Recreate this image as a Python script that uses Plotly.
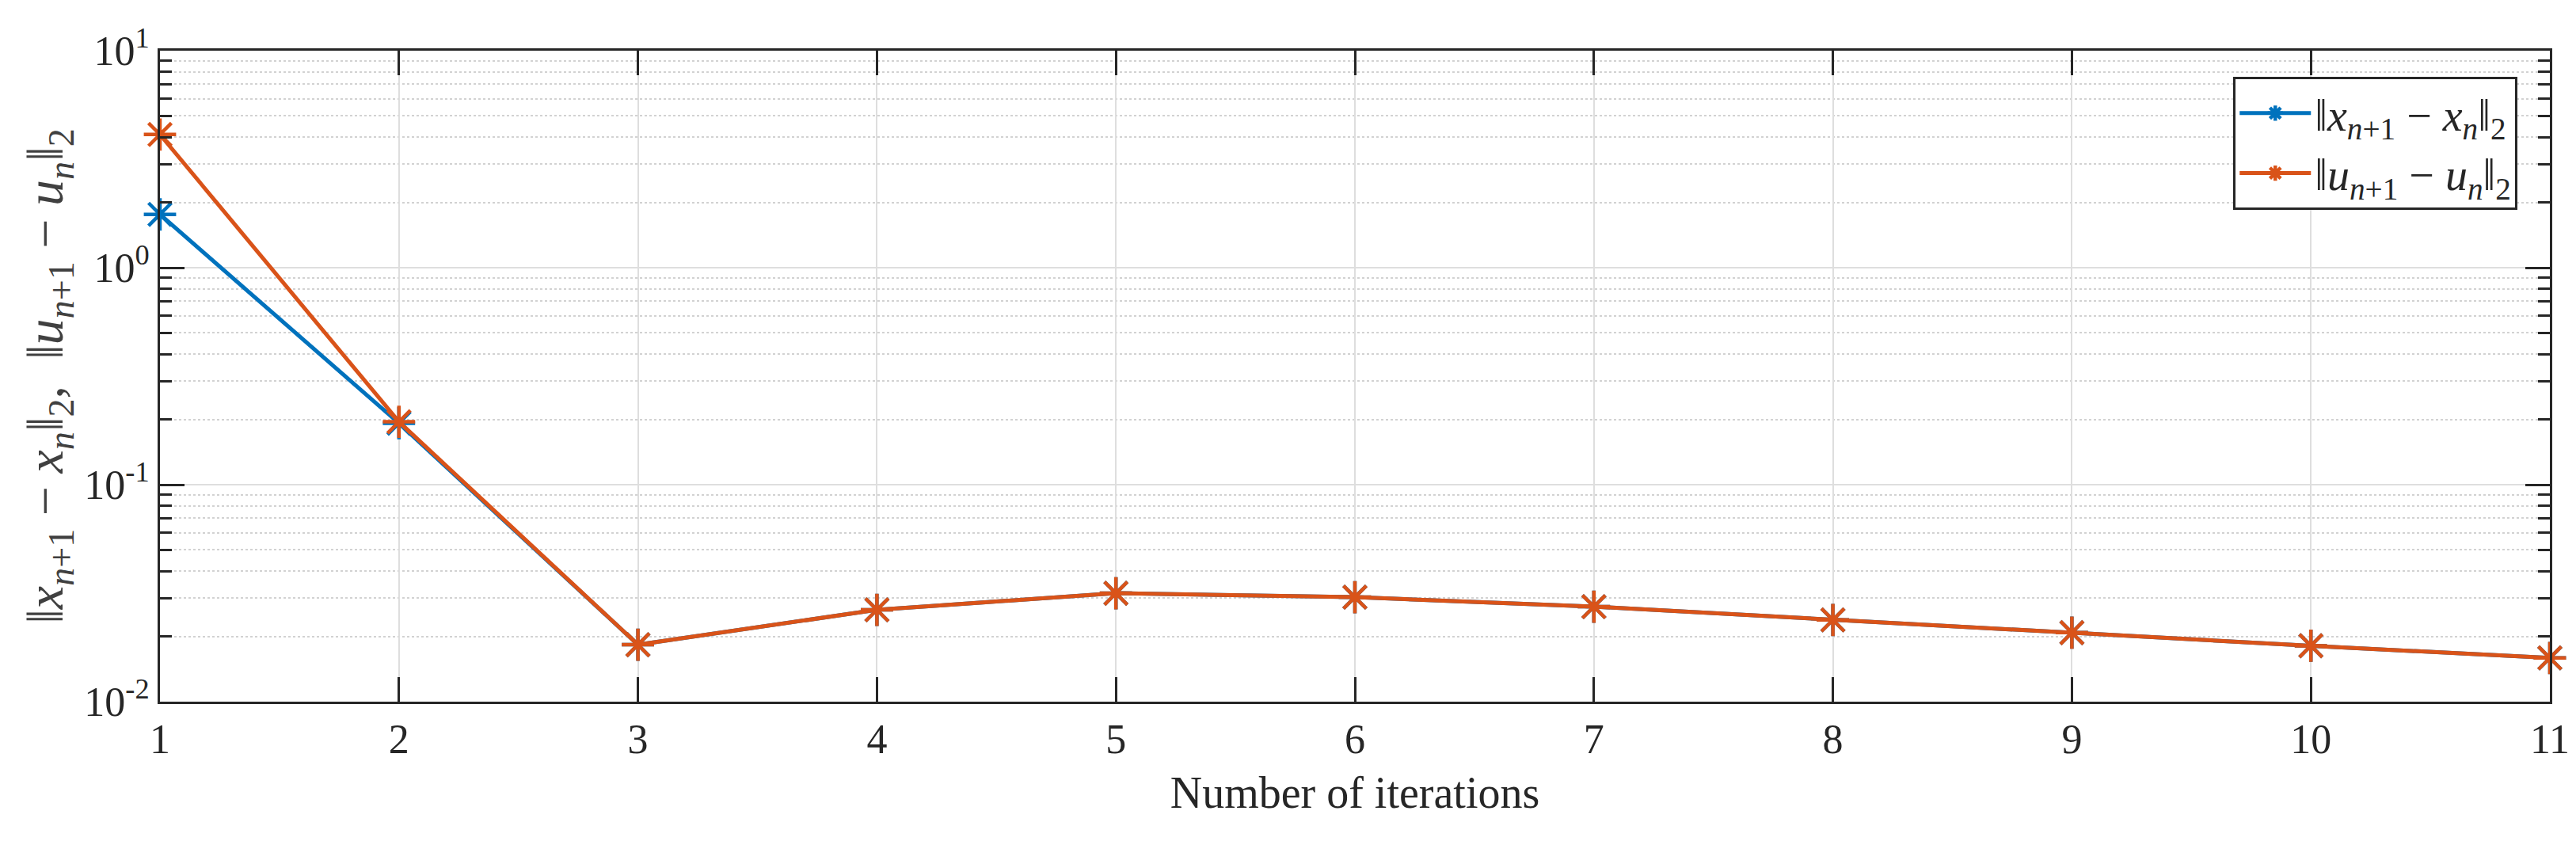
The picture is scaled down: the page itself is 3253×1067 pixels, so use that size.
import plotly.graph_objects as go

iterations = [1, 2, 3, 4, 5, 6, 7, 8, 9, 10, 11]
x_diff = [1.76, 0.192, 0.0183, 0.0265, 0.0316, 0.0303, 0.0274, 0.0238, 0.0208, 0.0181, 0.0159]
u_diff = [4.11, 0.195, 0.0183, 0.0265, 0.0316, 0.0303, 0.0274, 0.0238, 0.0208, 0.0181, 0.0159]

y_major = [0.01, 0.1, 1, 10]
y_major_text = ["10<sup>-2</sup>", "10<sup>-1</sup>", "10<sup>0</sup>", "10<sup>1</sup>"]
y_minor = [m * d for d in [0.01, 0.1, 1] for m in range(2, 10)]

blue = "#0072BD"
orange = "#D95319"
axis_col = "#262626"
serif = "Liberation Serif"

fig = go.Figure()
for name, vals, col in [
    ("‖<i>x</i><sub><i>n</i>+1</sub> − <i>x</i><sub><i>n</i></sub>‖<sub>2</sub>", x_diff, blue),
    ("‖<i>u</i><sub><i>n</i>+1</sub> − <i>u</i><sub><i>n</i></sub>‖<sub>2</sub>", u_diff, orange),
]:
    fig.add_trace(go.Scatter(
        x=iterations, y=vals, name=name, mode="lines+markers",
        line=dict(color=col, width=5),
        marker=dict(symbol="asterisk-open", size=34, line=dict(color=col, width=4.5)),
        cliponaxis=False,
    ))

fig.update_layout(
    width=3253, height=1067,
    margin=dict(l=194, r=41, t=56, b=189),
    paper_bgcolor="white", plot_bgcolor="white",
    font=dict(family=serif, size=48, color=axis_col),
    showlegend=True,
    legend=dict(
        x=0.9865, y=0.96, xanchor="right", yanchor="top",
        bgcolor="white", bordercolor=axis_col, borderwidth=3,
        font=dict(family=serif, size=56, color=axis_col),
        itemwidth=90, tracegroupgap=0,
    ),
    xaxis=dict(
        range=[1, 11], tickmode="array", tickvals=iterations,
        ticks="inside", ticklen=31, tickwidth=2.5, tickcolor=axis_col,
        showline=True, linecolor=axis_col, linewidth=3, mirror="ticks",
        showgrid=True, gridcolor="#dedede", gridwidth=2,
        zeroline=False,
        title=dict(text="Number of iterations", font=dict(family=serif, size=56), standoff=20),
        tickfont=dict(family=serif, size=52),
    ),
    yaxis=dict(
        type="log", range=[-2, 1],
        tickmode="array", tickvals=y_major, ticktext=y_major_text,
        ticks="inside", ticklen=31, tickwidth=2.5, tickcolor=axis_col,
        showline=True, linecolor=axis_col, linewidth=3, mirror="ticks",
        showgrid=True, gridcolor="#dedede", gridwidth=2,
        zeroline=False,
        minor=dict(tickmode="array", tickvals=y_minor, ticks="inside", ticklen=15,
                   tickwidth=2.5, tickcolor=axis_col, showgrid=True,
                   gridcolor="#d2d2d2", griddash="dot", gridwidth=2),
        title=dict(
            text="‖<i>x</i><sub><i>n</i>+1</sub> − <i>x</i><sub><i>n</i></sub>‖<sub>2</sub>,  "
                 "‖<i>u</i><sub><i>n</i>+1</sub> − <i>u</i><sub><i>n</i></sub>‖<sub>2</sub>",
            font=dict(family=serif, size=66, color="#404040"), standoff=6),
        tickfont=dict(family=serif, size=52),
    ),
)

fig.write_html("out.html")
